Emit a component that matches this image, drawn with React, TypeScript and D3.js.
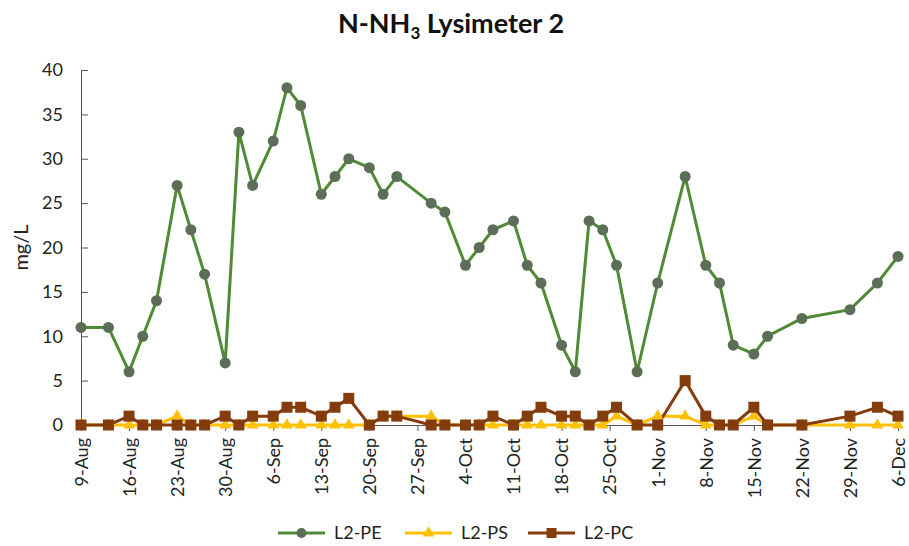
import { useEffect, useRef } from 'react';
import * as d3 from 'd3';

const dates = [
  '2013-08-09', '2013-08-13', '2013-08-16', '2013-08-18', '2013-08-20', '2013-08-23', '2013-08-25',
  '2013-08-27', '2013-08-30', '2013-09-01', '2013-09-03', '2013-09-06', '2013-09-08', '2013-09-10',
  '2013-09-13', '2013-09-15', '2013-09-17', '2013-09-20', '2013-09-22', '2013-09-24', '2013-09-29',
  '2013-10-01', '2013-10-04', '2013-10-06', '2013-10-08', '2013-10-11', '2013-10-13', '2013-10-15',
  '2013-10-18', '2013-10-20', '2013-10-22', '2013-10-24', '2013-10-26', '2013-10-29', '2013-11-01',
  '2013-11-05', '2013-11-08', '2013-11-10', '2013-11-12', '2013-11-15', '2013-11-17', '2013-11-22',
  '2013-11-29', '2013-12-03', '2013-12-06',
];

const pe = [
  11, 11, 6, 10, 14, 27, 22, 17, 7, 33, 27, 32, 38, 36, 26, 28, 30, 29, 26, 28, 25, 24, 18, 20, 22, 23,
  18, 16, 9, 6, 23, 22, 18, 6, 16, 28, 18, 16, 9, 8, 10, 12, 13, 16, 19,
];
const ps = [
  0, 0, 0, 0, 0, 1, 0, 0, 0, 0, 0, 0, 0, 0, 0, 0, 0, 0, 1, 1, 1, 0, 0, 0, 0, 0, 0, 0, 0, 0, 0, 0, 1, 0,
  1, 1, 0, 0, 0, 1, 0, 0, 0, 0, 0,
];
const pc = [
  0, 0, 1, 0, 0, 0, 0, 0, 1, 0, 1, 1, 2, 2, 1, 2, 3, 0, 1, 1, 0, 0, 0, 0, 1, 0, 1, 2, 1, 1, 0, 1, 2, 0,
  0, 5, 1, 0, 0, 2, 0, 0, 1, 2, 1,
];

const yTicks = [0, 5, 10, 15, 20, 25, 30, 35, 40];
const seriesNames = ['L2-PE', 'L2-PS', 'L2-PC'];

function App() {
  const svgRef = useRef<SVGSVGElement | null>(null);
  const width = 909;
  const height = 546;
  const margin = { top: 70, right: 11, bottom: 121, left: 81 };
  const font = 'Lato, "Open Sans", sans-serif';

  useEffect(() => {
    const svg = d3.select(svgRef.current);
    svg.selectAll('*').remove();

    const parse = d3.utcParse('%Y-%m-%d');
    const xs = dates.map((d) => parse(d) as Date);
    const start = xs[0];
    const end = xs[xs.length - 1];

    const x = d3.scaleUtc().domain([start, end]).range([margin.left, width - margin.right]);
    const y = d3.scaleLinear().domain([0, 40]).range([height - margin.bottom, margin.top]);

    // title
    const title = svg
      .append('text')
      .attr('x', 451)
      .attr('y', 33)
      .attr('text-anchor', 'middle')
      .attr('font-family', font)
      .attr('font-weight', 'bold')
      .attr('font-size', 27)
      .attr('fill', '#111');
    title.append('tspan').text('N-NH');
    title.append('tspan').text('3').attr('font-size', 17).attr('dy', 6);
    title.append('tspan').text(' Lysimeter 2').attr('dy', -6);

    // y axis (ticks point inward)
    const yAxis = svg
      .append('g')
      .attr('transform', `translate(${margin.left},0)`)
      .call(d3.axisLeft(y).tickValues(yTicks).tickSize(-7).tickSizeOuter(0).tickPadding(18));
    yAxis.select('.domain').attr('stroke', '#555');
    yAxis.selectAll('.tick line').attr('stroke', '#555');
    yAxis
      .selectAll('.tick text')
      .attr('font-family', font)
      .attr('font-size', 18)
      .attr('fill', '#222');

    svg
      .append('text')
      .attr('transform', `translate(21,${y(20)}) rotate(-90)`)
      .attr('text-anchor', 'middle')
      .attr('dy', '0.35em')
      .attr('font-family', font)
      .attr('font-size', 20)
      .attr('fill', '#222')
      .text('mg/L');

    // x axis
    const xTicks = d3.utcDay.range(start, d3.utcDay.offset(end, 1), 7);
    const xAxis = svg
      .append('g')
      .attr('transform', `translate(0,${y(0)})`)
      .call(
        d3
          .axisBottom(x)
          .tickValues(xTicks)
          .tickSize(6)
          .tickSizeOuter(0)
          .tickFormat((d) => d3.utcFormat('%-d-%b')(d as Date)),
      );
    xAxis.select('.domain').attr('stroke', '#555');
    xAxis.selectAll('.tick line').attr('stroke', '#555');
    xAxis
      .selectAll('.tick text')
      .attr('font-family', font)
      .attr('font-size', 18)
      .attr('fill', '#222')
      .attr('text-anchor', 'end')
      .attr('x', -13)
      .attr('y', 0)
      .attr('dy', '0.35em')
      .attr('transform', 'rotate(-90)');

    const line = d3
      .line<number>()
      .x((_, i) => x(xs[i]))
      .y((v) => y(v));

    const colors = { pe: '#4f8a35', peMarker: '#5b6f57', ps: '#ffc000', pc: '#843c0c' };

    svg
      .append('path')
      .attr('d', line(pe))
      .attr('fill', 'none')
      .attr('stroke', colors.pe)
      .attr('stroke-width', 3);

    svg
      .append('path')
      .attr('d', line(ps))
      .attr('fill', 'none')
      .attr('stroke', colors.ps)
      .attr('stroke-width', 3);

    svg
      .append('path')
      .attr('d', line(pc))
      .attr('fill', 'none')
      .attr('stroke', colors.pc)
      .attr('stroke-width', 3);

    svg
      .append('g')
      .selectAll('circle')
      .data(pe)
      .join('circle')
      .attr('cx', (_, i) => x(xs[i]))
      .attr('cy', (v) => y(v))
      .attr('r', 5.5)
      .attr('fill', colors.peMarker);

    const tri = d3.symbol().type(d3.symbolTriangle).size(60);
    svg
      .append('g')
      .selectAll('path')
      .data(ps)
      .join('path')
      .attr('d', tri)
      .attr('transform', (v, i) => `translate(${x(xs[i])},${y(v)})`)
      .attr('fill', colors.ps);

    svg
      .append('g')
      .selectAll('rect')
      .data(pc)
      .join('rect')
      .attr('x', (_, i) => x(xs[i]) - 5.5)
      .attr('y', (v) => y(v) - 5.5)
      .attr('width', 11)
      .attr('height', 11)
      .attr('fill', colors.pc);

    // legend
    const legendY = 533;
    const items = [
      { name: seriesNames[0], color: colors.pe, x0: 278, marker: 'circle' },
      { name: seriesNames[1], color: colors.ps, x0: 405, marker: 'triangle' },
      { name: seriesNames[2], color: colors.pc, x0: 528, marker: 'square' },
    ];
    const lg = svg.append('g');
    items.forEach((it) => {
      const g = lg.append('g').attr('transform', `translate(${it.x0},${legendY})`);
      g.append('line')
        .attr('x1', 0)
        .attr('x2', 47)
        .attr('y1', 0)
        .attr('y2', 0)
        .attr('stroke', it.color)
        .attr('stroke-width', 3);
      if (it.marker === 'circle') {
        g.append('circle').attr('cx', 23.5).attr('cy', 0).attr('r', 5).attr('fill', colors.peMarker);
      } else if (it.marker === 'triangle') {
        g.append('path').attr('d', tri).attr('transform', 'translate(23.5,0)').attr('fill', it.color);
      } else {
        g.append('rect').attr('x', 18.5).attr('y', -5).attr('width', 10).attr('height', 10).attr('fill', it.color);
      }
      g.append('text')
        .attr('x', 56)
        .attr('y', 0)
        .attr('dy', '0.35em')
        .attr('font-family', font)
        .attr('font-size', 18)
        .attr('fill', '#222')
        .text(it.name);
    });
  }, []);

  return (
    <svg
      ref={svgRef}
      width={width}
      height={height}
      style={{ position: 'absolute', left: 0, top: 0, background: '#fff' }}
    />
  );
}

export default App;
